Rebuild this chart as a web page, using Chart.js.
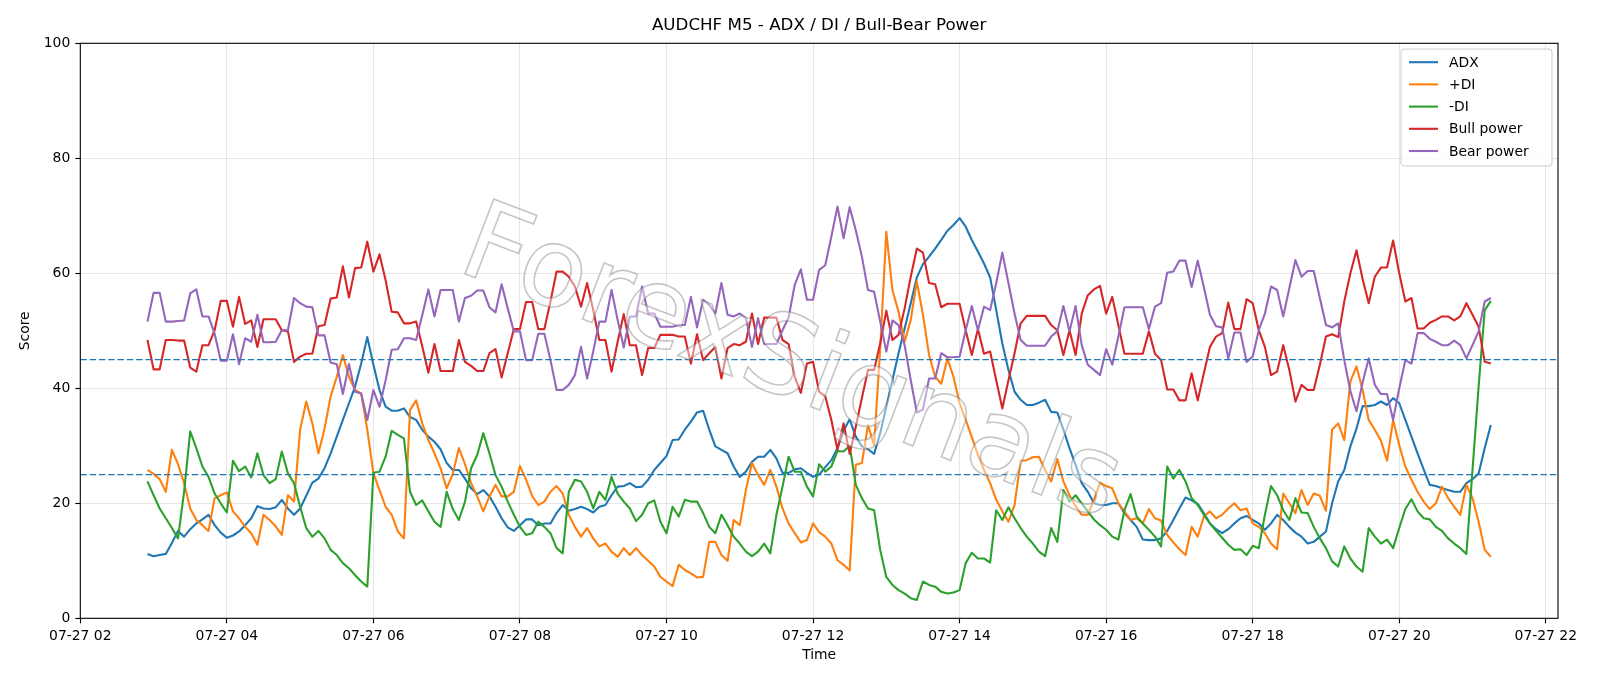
<!DOCTYPE html>
<html lang="en">
<head>
    <meta charset="UTF-8">
    <title>AUDCHF M5 - ADX / DI / Bull-Bear Power</title>
    <script src="https://cdn.jsdelivr.net/npm/chart.js@4"></script>
    <style>
        html, body { margin: 0; padding: 0; background: #fff; }
        canvas { display: block; }
    </style>
</head>
<body>
<canvas id="dmiChart" width="1600" height="686"></canvas>
<script>
    // 5-minute bars, 07-27 02:55 .. 21:15 (x in hours of the day)
    const startHour = 2 + 55 / 60;
    const stepHour = 5 / 60;
    const xMin = 2, xMax = 22 + 10 / 60;
    const xTicks = [2, 4, 6, 8, 10, 12, 14, 16, 18, 20, 22];
    const levels = [25, 45];
    const watermark = 'ForexSignals';

    const adx = [11.2,10.8,11.0,11.2,13.1,15.2,14.2,15.5,16.5,17.2,
        18.0,16.2,14.9,14.0,14.4,15.1,16.2,17.4,19.5,19.1,
        19.0,19.3,20.6,19.1,18.0,19.1,21.3,23.6,24.3,26.1,
        28.7,31.6,34.5,37.4,40.3,44.3,48.9,44.1,39.7,36.8,
        36.1,36.1,36.5,35.0,34.5,32.8,31.6,30.7,29.4,27.0,
        25.8,25.8,24.3,22.6,21.6,22.3,21.2,19.4,17.4,15.8,
        15.2,16.2,17.2,17.2,16.2,16.5,16.5,18.3,19.7,18.7,
        19.0,19.4,19.0,18.4,19.4,19.7,21.4,22.9,23.0,23.5,
        22.8,22.9,24.1,25.8,27.0,28.2,31.0,31.1,32.8,34.2,
        35.8,36.1,32.8,29.9,29.3,28.7,26.4,24.6,25.5,27.2,
        28.1,28.1,29.3,27.8,25.3,25.3,25.9,26.1,25.3,24.6,
        25.0,26.3,27.5,29.6,32.6,34.6,31.6,29.9,29.4,28.6,
        32.2,36.8,41.4,46.1,50.4,54.8,59.3,61.6,62.9,64.3,
        65.8,67.4,68.4,69.6,68.1,65.8,63.8,61.7,59.3,53.6,
        47.8,43.2,39.4,38.0,37.1,37.1,37.5,38.0,35.9,35.8,
        32.8,29.6,26.7,23.5,22.0,20.0,19.7,19.7,20.0,20.0,
        18.3,17.1,15.9,13.7,13.6,13.6,13.9,15.2,17.1,19.1,
        21.0,20.5,19.9,18.3,16.5,15.5,14.8,15.5,16.5,17.4,
        17.8,17.1,16.5,15.4,16.5,18.0,17.1,15.9,14.9,14.2,
        13.0,13.3,14.2,15.1,20.0,23.8,25.8,29.9,33.0,36.9,
        36.9,37.1,37.7,37.1,38.3,37.4,34.5,31.6,28.7,25.9,
        23.2,23.0,22.6,22.3,22.0,22.0,23.5,24.2,25.2,29.6,
        33.6];

    const plusDi = [25.8,25.1,24.2,22.0,29.3,26.8,23.5,19.1,17.1,16.2,
        15.2,20.9,21.4,21.9,18.6,17.4,15.9,14.8,12.8,18.0,
        17.1,16.0,14.5,21.4,20.3,32.8,37.7,33.9,28.7,33.0,
        38.6,42.0,45.8,42.0,39.7,39.1,32.8,25.2,22.3,19.4,
        18.0,15.1,13.9,36.2,37.9,33.9,31.0,28.7,26.1,22.6,
        25.1,29.6,26.8,23.5,21.2,18.6,21.2,23.2,21.2,21.2,
        22.0,26.5,24.1,21.3,19.7,20.3,22.0,23.0,21.7,18.0,
        15.9,14.2,15.7,13.9,12.5,13.0,11.6,10.7,12.2,11.0,
        12.2,11.0,10.0,9.0,7.2,6.4,5.6,9.3,8.4,7.8,
        7.1,7.2,13.3,13.3,11.0,10.0,17.1,16.2,22.3,27.0,
        24.9,23.2,25.8,22.9,19.1,16.5,14.8,13.2,13.6,16.5,
        15.0,14.2,13.0,10.1,9.3,8.3,26.7,27.0,33.6,30.1,
        47.0,67.2,57.1,53.3,48.1,51.9,58.6,52.8,45.8,42.0,
        40.8,45.2,42.0,37.4,34.5,31.5,28.4,25.8,23.5,20.6,
        18.6,16.8,19.7,27.4,27.5,28.0,28.1,25.8,23.8,27.7,
        23.8,21.4,19.5,18.0,18.0,20.6,23.6,23.0,22.6,20.0,
        18.6,17.1,17.4,16.5,19.0,17.4,17.0,14.5,13.2,12.0,
        11.0,15.9,14.2,17.7,18.6,17.4,18.0,19.1,20.0,18.8,
        19.1,16.5,15.9,14.8,13.0,12.0,21.7,20.0,18.3,22.3,
        19.7,21.7,21.3,18.7,32.8,33.9,31.0,41.2,43.8,39.7,
        34.5,32.8,30.9,27.4,34.5,30.1,26.4,24.1,22.0,20.3,
        19.0,20.0,22.9,20.9,19.4,18.0,23.2,20.9,16.8,11.9,
        10.7];

    const minusDi = [23.8,21.4,19.1,17.4,15.7,13.9,22.0,32.5,29.6,26.4,
        24.6,21.7,20.0,18.4,27.4,25.6,26.4,24.5,28.7,24.9,
        23.5,24.2,29.0,25.2,23.5,19.4,15.7,14.2,15.2,13.9,
        11.9,11.0,9.6,8.7,7.5,6.4,5.5,25.3,25.5,28.1,
        32.6,31.9,31.3,22.0,19.7,20.5,18.6,16.8,15.9,22.0,
        19.0,17.1,20.3,26.1,28.4,32.2,28.7,24.9,22.9,20.3,
        18.0,15.9,14.5,14.8,16.8,15.9,14.8,12.2,11.3,22.0,
        24.1,23.8,22.0,19.1,22.0,20.6,24.6,21.7,20.3,19.1,
        16.9,18.0,20.0,20.5,16.8,14.8,19.4,17.7,20.6,20.3,
        20.3,18.3,15.9,14.8,18.0,16.2,14.2,13.0,11.6,10.8,
        11.6,13.0,11.3,18.0,22.9,28.1,25.5,25.5,22.9,21.2,
        26.8,25.5,26.4,29.1,29.0,30.0,23.2,20.9,19.1,18.8,
        11.9,7.2,5.8,4.9,4.3,3.5,3.2,6.4,5.8,5.5,
        4.6,4.3,4.5,4.9,9.6,11.4,10.4,10.4,9.7,18.8,
        17.1,19.3,17.4,15.7,14.2,13.0,11.6,10.8,15.7,13.3,
        22.3,20.3,21.4,20.0,18.6,17.2,16.2,15.4,14.2,13.7,
        18.8,21.6,17.7,16.5,15.4,14.2,12.5,26.4,24.3,25.8,
        23.8,20.9,19.7,18.0,16.5,15.2,14.0,12.8,11.9,12.0,
        11.0,12.6,12.2,18.0,23.0,21.4,18.8,17.1,20.9,18.4,
        18.3,15.9,13.9,12.2,9.9,9.0,12.5,10.4,9.0,8.1,
        15.7,14.2,13.0,13.7,12.2,15.7,19.0,20.7,18.6,17.4,
        17.2,15.9,15.2,13.9,13.0,12.2,11.2,25.8,40.3,53.6,
        55.2];

    const bullPower = [48.4,43.3,43.3,48.4,48.4,48.3,48.3,43.6,42.9,47.5,
        47.5,50.1,55.2,55.2,50.7,55.9,51.2,51.8,47.2,52.0,
        52.0,52.0,50.1,49.9,44.6,45.5,46.0,46.0,50.8,51.0,
        55.6,55.8,61.2,55.8,60.9,61.0,65.5,60.3,63.3,58.8,
        53.3,53.2,51.3,51.3,51.6,47.3,42.7,47.7,43.0,43.0,
        43.0,48.4,44.6,43.9,43.0,43.0,46.1,46.8,41.9,46.1,
        50.3,50.3,55.0,55.0,50.3,50.3,55.1,60.3,60.3,59.4,
        57.7,54.2,58.3,53.6,48.4,48.4,42.9,48.1,52.9,47.5,
        47.5,42.3,47.0,47.0,49.3,49.3,49.3,49.0,49.0,44.3,
        49.4,44.9,46.1,47.2,41.7,47.0,47.7,47.5,48.1,53.0,
        47.7,52.3,52.3,52.3,48.4,47.7,42.0,39.2,44.3,44.6,
        39.4,38.6,34.5,29.3,33.9,28.6,33.3,38.3,43.2,43.2,
        47.8,53.5,48.4,49.3,53.9,59.4,64.3,63.6,58.3,58.1,
        54.1,54.7,54.7,54.7,50.1,45.8,50.3,46.0,46.4,41.4,
        36.5,41.4,46.1,51.3,52.6,52.6,52.6,52.6,51.0,50.1,
        45.8,50.1,45.8,53.0,56.2,57.2,57.8,53.0,55.9,51.0,
        46.0,46.0,46.0,46.0,49.9,46.0,44.9,39.8,39.8,37.9,
        37.9,42.6,37.9,42.6,47.2,49.0,49.6,54.9,50.3,50.3,
        55.5,54.8,50.1,47.2,42.3,42.9,47.5,43.2,37.7,40.6,
        39.7,39.7,44.1,49.0,49.4,48.9,55.1,60.0,64.0,59.0,
        54.8,59.4,61.0,61.0,65.7,60.0,55.1,55.7,50.4,50.4,
        51.4,51.9,52.5,52.5,51.8,52.5,54.8,52.8,50.7,44.6,
        44.3];

    const bearPower = [51.6,56.6,56.6,51.6,51.6,51.7,51.8,56.5,57.2,52.5,
        52.5,49.5,44.8,44.8,49.4,44.2,48.7,48.1,52.8,48.0,
        48.0,48.1,50.1,50.1,55.7,54.8,54.2,54.1,49.2,49.2,
        44.5,44.2,39.0,44.2,39.4,39.1,34.5,39.7,36.8,41.4,
        46.7,46.8,48.7,48.7,48.4,52.7,57.2,52.5,57.1,57.1,
        57.1,51.6,55.7,56.1,57.0,57.0,54.1,53.2,58.1,53.9,
        49.9,49.9,44.9,44.9,49.5,49.5,44.9,39.7,39.7,40.6,
        42.3,47.2,41.7,46.4,51.6,51.6,57.1,51.9,47.1,52.5,
        52.5,57.7,53.0,53.0,50.7,50.7,50.7,51.0,51.0,55.9,
        50.6,55.4,54.5,53.0,58.3,52.8,52.5,53.0,52.2,47.2,
        52.2,47.7,47.7,47.7,50.1,52.3,58.0,60.7,55.4,55.4,
        60.6,61.4,66.4,71.6,66.1,71.5,67.5,62.9,57.1,56.8,
        51.6,46.4,51.8,51.0,47.5,41.4,35.8,36.3,41.7,41.7,
        46.1,45.4,45.4,45.5,50.1,54.3,50.1,54.2,53.6,58.3,
        63.6,58.3,53.0,48.4,47.4,47.4,47.4,47.4,49.0,49.9,
        54.3,49.9,54.3,47.5,44.1,43.2,42.3,46.8,44.1,49.0,
        54.1,54.1,54.1,54.1,50.3,54.2,54.8,60.1,60.3,62.2,
        62.2,57.6,62.2,57.6,52.8,50.8,50.6,45.2,49.7,49.7,
        44.6,45.5,50.1,53.0,57.7,57.1,52.5,57.4,62.3,59.4,
        60.4,60.4,55.7,51.0,50.6,51.3,44.9,39.5,36.0,41.0,
        45.2,40.6,39.0,39.0,34.5,40.0,44.9,44.3,49.6,49.6,
        48.6,48.1,47.5,47.5,48.3,47.5,45.2,47.5,49.9,55.1,
        55.7];

    Chart.defaults.font.family = '"DejaVu Sans", sans-serif';
    Chart.defaults.color = '#000';

    function toPoints(values) {
        return values.map((v, i) => ({ x: startHour + i * stepHour, y: v }));
    }

    function seriesLine(label, values, color, order) {
        return {
            label: label,
            data: toPoints(values),
            borderColor: color,
            backgroundColor: color,
            borderWidth: 2.1,
            borderJoinStyle: 'round',
            pointRadius: 0,
            tension: 0,
            order: order
        };
    }

    const datasets = [
        seriesLine('ADX', adx, '#1f77b4', 7),
        seriesLine('+DI', plusDi, '#ff7f0e', 6),
        seriesLine('-DI', minusDi, '#2ca02c', 5),
        seriesLine('Bull power', bullPower, '#d62728', 4),
        seriesLine('Bear power', bearPower, '#9467bd', 3)
    ];
    levels.forEach((lvl, k) => {
        datasets.push({
            data: [{ x: xMin, y: lvl }, { x: xMax, y: lvl }],
            borderColor: '#1f77b4',
            borderWidth: 1.3,
            borderDash: [6.5, 2.8],
            pointRadius: 0,
            order: 2 - k
        });
    });

    // matplotlib-like frame, legend box, title and watermark
    const decor = {
        id: 'decor',
        afterDatasetsDraw(chart) {
            const ctx = chart.ctx;
            const a = chart.chartArea;

            ctx.save();
            ctx.beginPath();
            ctx.rect(a.left, a.top, a.right - a.left, a.bottom - a.top);
            ctx.clip();
            ctx.translate(790, 368);
            ctx.rotate(21 * Math.PI / 180);
            ctx.font = '110px "DejaVu Sans"';
            ctx.textAlign = 'center';
            ctx.textBaseline = 'middle';
            ctx.fillStyle = 'rgba(255,255,255,0.45)';
            ctx.fillText(watermark, 0, 0);
            ctx.strokeStyle = 'rgba(120,120,120,0.42)';
            ctx.lineWidth = 1.6;
            ctx.strokeText(watermark, 0, 0);
            ctx.restore();

            ctx.save();
            ctx.strokeStyle = '#000';
            ctx.lineWidth = 1.1;
            ctx.strokeRect(a.left, a.top, a.right - a.left, a.bottom - a.top);
            ctx.restore();

            // legend
            const items = chart.data.datasets.filter(d => d.label);
            const lx = 1401, ly = 49, lw = 151, lh = 117;
            ctx.save();
            ctx.beginPath();
            ctx.roundRect(lx, ly, lw, lh, 3);
            ctx.fillStyle = 'rgba(255,255,255,0.8)';
            ctx.fill();
            ctx.strokeStyle = '#cccccc';
            ctx.lineWidth = 1;
            ctx.stroke();
            ctx.font = '13.9px "DejaVu Sans"';
            ctx.textBaseline = 'middle';
            items.forEach((d, k) => {
                const y = ly + 13.2 + k * 22.2;
                ctx.beginPath();
                ctx.moveTo(lx + 8, y);
                ctx.lineTo(lx + 37, y);
                ctx.strokeStyle = d.borderColor;
                ctx.lineWidth = 2.1;
                ctx.stroke();
                ctx.fillStyle = '#000';
                ctx.fillText(d.label, lx + 48, y + 1);
            });
            ctx.restore();
        },
        afterDraw(chart) {
            const ctx = chart.ctx;
            const a = chart.chartArea;
            ctx.save();
            ctx.font = '16.7px "DejaVu Sans"';
            ctx.fillStyle = '#000';
            ctx.textAlign = 'center';
            ctx.textBaseline = 'middle';
            ctx.fillText('AUDCHF M5 - ADX / DI / Bull-Bear Power', (a.left + a.right) / 2, 26);
            ctx.restore();
        }
    };

    const ctx = document.getElementById('dmiChart').getContext('2d');
    new Chart(ctx, {
        type: 'line',
        data: { datasets: datasets },
        plugins: [decor],
        options: {
            responsive: false,
            animation: false,
            events: [],
            layout: { padding: { left: 13, right: 42, top: 43.3, bottom: 18 } },
            plugins: {
                legend: { display: false },
                title: { display: false },
                tooltip: { enabled: false }
            },
            scales: {
                x: {
                    type: 'linear',
                    min: xMin,
                    max: xMax,
                    afterBuildTicks: scale => { scale.ticks = xTicks.map(v => ({ value: v })); },
                    afterFit: scale => { scale.height = 49.7; },
                    ticks: {
                        autoSkip: false,
                        maxRotation: 0,
                        padding: 5,
                        font: { size: 13.9 },
                        callback: v => '07-27 ' + String(v).padStart(2, '0')
                    },
                    grid: { color: '#e6e6e6', lineWidth: 1, tickColor: '#000', tickLength: 5, tickWidth: 1.1 },
                    border: { display: false },
                    title: { display: true, text: 'Time', font: { size: 13.9 }, padding: { top: 4, bottom: 4 } }
                },
                y: {
                    min: 0,
                    max: 100,
                    afterFit: scale => { scale.width = 67.3; },
                    ticks: { stepSize: 20, padding: 5, font: { size: 13.9 } },
                    grid: { color: '#e6e6e6', lineWidth: 1, tickColor: '#000', tickLength: 5, tickWidth: 1.1 },
                    border: { display: false },
                    title: { display: true, text: 'Score', font: { size: 13.9 }, padding: { top: 4, bottom: 4 } }
                }
            }
        }
    });
</script>
</body>
</html>
